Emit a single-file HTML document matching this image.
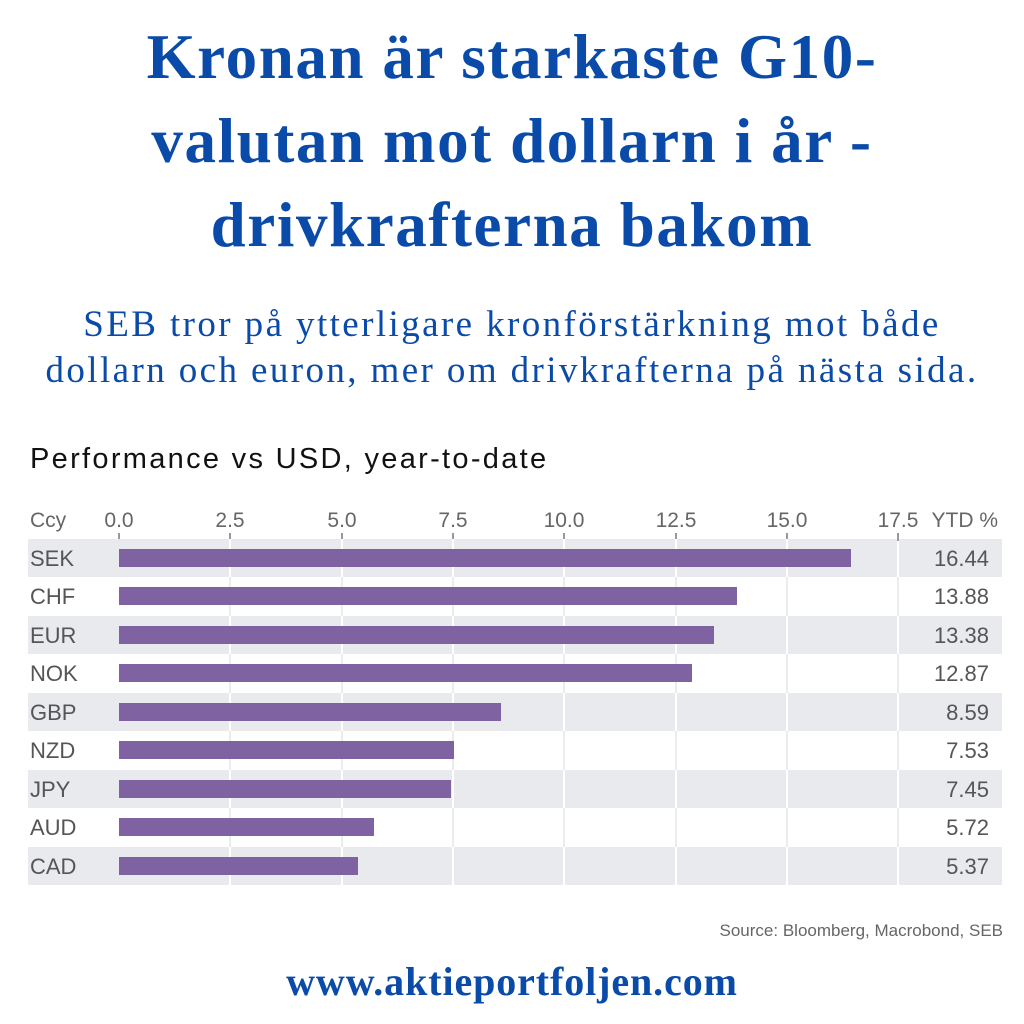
<!DOCTYPE html>
<html><head><meta charset="utf-8"><style>
body{margin:0;width:1024px;height:1024px;background:#fff;position:relative;overflow:hidden}
.t{position:absolute;left:0;width:1024px;text-align:center;color:#0a4aa8;font-family:"Liberation Serif","DejaVu Serif",serif;white-space:nowrap}
.h{font-weight:bold;font-size:63px;line-height:84px;top:15px;letter-spacing:1.6px}
.s{font-size:37px;line-height:46px;top:302px;letter-spacing:2.4px}
.u{font-size:40px;top:958px;font-weight:bold;letter-spacing:0.9px}
.c{position:absolute;font-family:"Liberation Sans","DejaVu Sans",sans-serif;color:#555}
</style></head><body>
<div class="t h">Kronan är starkaste G10-<br>valutan mot dollarn i år -<br>drivkrafterna bakom</div>
<div class="t s">SEB tror på ytterligare kronförstärkning mot både<br>dollarn och euron, mer om drivkrafterna på nästa sida.</div>
<div class="c" style="left:30px;top:443px;font-size:29px;color:#111;letter-spacing:2.3px">Performance vs USD, year-to-date</div>
<svg width="1024" height="1024" style="position:absolute;left:0;top:0" font-family="Liberation Sans, DejaVu Sans, sans-serif">
<g fill="#e8eaee">
<rect x="28" y="539" width="974" height="38"/>
<rect x="28" y="616" width="974" height="38"/>
<rect x="28" y="693" width="974" height="38"/>
<rect x="28" y="770" width="974" height="38"/>
<rect x="28" y="847" width="974" height="38"/>
</g>
<g stroke="#fff" stroke-width="2">
<line x1="230" y1="539" x2="230" y2="885"/><line x1="342" y1="539" x2="342" y2="885"/><line x1="453" y1="539" x2="453" y2="885"/><line x1="564" y1="539" x2="564" y2="885"/><line x1="676" y1="539" x2="676" y2="885"/><line x1="787" y1="539" x2="787" y2="885"/><line x1="898" y1="539" x2="898" y2="885"/>
</g>
<g stroke="#e3e5e8" stroke-width="1.5">
<line x1="230" y1="577" x2="230" y2="616"/><line x1="342" y1="577" x2="342" y2="616"/><line x1="453" y1="577" x2="453" y2="616"/><line x1="564" y1="577" x2="564" y2="616"/><line x1="676" y1="577" x2="676" y2="616"/><line x1="787" y1="577" x2="787" y2="616"/><line x1="898" y1="577" x2="898" y2="616"/>
<line x1="230" y1="654" x2="230" y2="693"/><line x1="342" y1="654" x2="342" y2="693"/><line x1="453" y1="654" x2="453" y2="693"/><line x1="564" y1="654" x2="564" y2="693"/><line x1="676" y1="654" x2="676" y2="693"/><line x1="787" y1="654" x2="787" y2="693"/><line x1="898" y1="654" x2="898" y2="693"/>
<line x1="230" y1="731" x2="230" y2="770"/><line x1="342" y1="731" x2="342" y2="770"/><line x1="453" y1="731" x2="453" y2="770"/><line x1="564" y1="731" x2="564" y2="770"/><line x1="676" y1="731" x2="676" y2="770"/><line x1="787" y1="731" x2="787" y2="770"/><line x1="898" y1="731" x2="898" y2="770"/>
<line x1="230" y1="808" x2="230" y2="847"/><line x1="342" y1="808" x2="342" y2="847"/><line x1="453" y1="808" x2="453" y2="847"/><line x1="564" y1="808" x2="564" y2="847"/><line x1="676" y1="808" x2="676" y2="847"/><line x1="787" y1="808" x2="787" y2="847"/><line x1="898" y1="808" x2="898" y2="847"/>
</g>
<g stroke="#777" stroke-width="1.5">
<line x1="119" y1="533" x2="119" y2="539"/><line x1="230" y1="533" x2="230" y2="539"/><line x1="342" y1="533" x2="342" y2="539"/><line x1="453" y1="533" x2="453" y2="539"/><line x1="564" y1="533" x2="564" y2="539"/><line x1="676" y1="533" x2="676" y2="539"/><line x1="787" y1="533" x2="787" y2="539"/><line x1="898" y1="533" x2="898" y2="541"/>
</g>
<g font-size="21" fill="#666" text-anchor="middle">
<text x="119" y="527">0.0</text><text x="230" y="527">2.5</text><text x="342" y="527">5.0</text><text x="453" y="527">7.5</text><text x="564" y="527">10.0</text><text x="676" y="527">12.5</text><text x="787" y="527">15.0</text><text x="898" y="527">17.5</text>
</g>
<text x="30" y="527" font-size="21" fill="#666">Ccy</text>
<text x="998" y="527" font-size="21" fill="#666" text-anchor="end">YTD %</text>
<g fill="#7e62a1">
<rect x="119" y="549" width="732" height="18"/>
<rect x="119" y="587" width="618" height="18"/>
<rect x="119" y="626" width="595" height="18"/>
<rect x="119" y="664" width="573" height="18"/>
<rect x="119" y="703" width="382" height="18"/>
<rect x="119" y="741" width="335" height="18"/>
<rect x="119" y="780" width="332" height="18"/>
<rect x="119" y="818" width="255" height="18"/>
<rect x="119" y="857" width="239" height="18"/>
</g>
<g font-size="22" fill="#555">
<text x="30" y="566">SEK</text><text x="30" y="604">CHF</text><text x="30" y="643">EUR</text><text x="30" y="681">NOK</text><text x="30" y="720">GBP</text><text x="30" y="758">NZD</text><text x="30" y="797">JPY</text><text x="30" y="835">AUD</text><text x="30" y="874">CAD</text>
</g>
<g font-size="22" fill="#555" text-anchor="end">
<text x="989" y="566">16.44</text><text x="989" y="604">13.88</text><text x="989" y="643">13.38</text><text x="989" y="681">12.87</text><text x="989" y="720">8.59</text><text x="989" y="758">7.53</text><text x="989" y="797">7.45</text><text x="989" y="835">5.72</text><text x="989" y="874">5.37</text>
</g>
<text x="1003" y="936" font-size="17" fill="#666" text-anchor="end">Source: Bloomberg, Macrobond, SEB</text>
</svg>
<div class="t u">www.aktieportfoljen.com</div>
</body></html>
